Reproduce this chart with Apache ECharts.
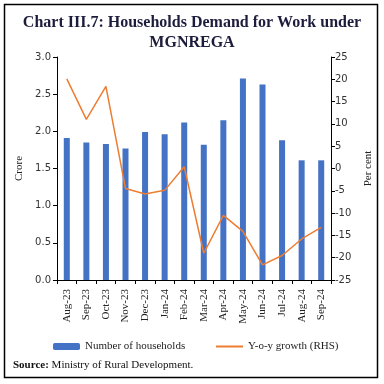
<!DOCTYPE html>
<html><head><meta charset="utf-8">
<script src="https://cdn.jsdelivr.net/npm/echarts@6/dist/echarts.min.js"></script>
<style>html,body{margin:0;padding:0;background:#fff}#c{width:384px;height:384px}</style>
</head><body><div id="c"></div>
<script>
const categories = ['Aug-23','Sep-23','Oct-23','Nov-23','Dec-23','Jan-24','Feb-24','Mar-24','Apr-24','May-24','Jun-24','Jul-24','Aug-24','Sep-24'];
const households = [1.91,1.85,1.83,1.77,1.99,1.96,2.12,1.82,2.15,2.71,2.63,1.88,1.61,1.61];
const yoyGrowth = [20.1,11.0,18.4,-4.5,-5.7,-4.9,0.4,-19.0,-10.5,-14.1,-21.6,-19.5,-15.8,-13.2];
const leftTicks = {min:0, max:3, interval:0.5};
const rightTicks = {min:-25, max:25, interval:5};

const chart = echarts.init(document.getElementById('c'), null, {renderer:'canvas'});
const serif = 'Liberation Serif';
const sans = 'DejaVu Sans';
chart.setOption({
  animation:false,
  backgroundColor:'#fff',
  title:{
    text:'Chart III.7: Households Demand for Work under\nMGNREGA',
    left:'center', top:8,
    textStyle:{fontFamily:serif, fontWeight:'bold', fontSize:16, color:'#1c1c3c', lineHeight:20}
  },
  grid:{left:57, right:53, top:57, bottom:104},
  legend:[
    {data:['Number of households'], left:53, top:341, padding:0, itemWidth:27, itemHeight:7, itemGap:4,
     textStyle:{fontFamily:serif, fontSize:11, color:'#222'}},
    {data:[{name:'Y-o-y growth (RHS)', icon:'rect'}], left:216, top:341, padding:0, itemWidth:27, itemHeight:2, itemGap:4,
     textStyle:{fontFamily:serif, fontSize:11, color:'#222'}}
  ],
  xAxis:{
    type:'category', data:categories,
    axisLine:{lineStyle:{color:'#000', width:1}},
    axisTick:{show:true, length:4, lineStyle:{color:'#000'}, alignWithLabel:false},
    axisLabel:{rotate:90, fontFamily:serif, fontSize:11, color:'#222', margin:9, interval:0}
  },
  yAxis:[
    {type:'value', min:leftTicks.min, max:leftTicks.max, interval:leftTicks.interval,
     name:'Crore', nameLocation:'middle', nameGap:30, nameRotate:90,
     nameTextStyle:{fontFamily:serif, fontSize:11, color:'#222'},
     axisLine:{show:true, lineStyle:{color:'#000'}},
     axisTick:{show:true, length:4, lineStyle:{color:'#000'}},
     splitLine:{show:false},
     axisLabel:{fontFamily:sans, fontSize:10, color:'#333', margin:6, formatter:v=>v.toFixed(1)}},
    {type:'value', min:rightTicks.min, max:rightTicks.max, interval:rightTicks.interval,
     name:'Per cent', nameLocation:'middle', nameGap:26, nameRotate:90,
     nameTextStyle:{fontFamily:serif, fontSize:11, color:'#222'},
     axisLine:{show:true, lineStyle:{color:'#000'}},
     axisTick:{show:true, length:4, lineStyle:{color:'#000'}},
     splitLine:{show:false},
     axisLabel:{fontFamily:sans, fontSize:10, color:'#333', margin:4}}
  ],
  series:[
    {name:'Number of households', type:'bar', data:households, yAxisIndex:0,
     barWidth:6, itemStyle:{color:'#4472C4'}},
    {name:'Y-o-y growth (RHS)', type:'line', data:yoyGrowth, yAxisIndex:1,
     symbol:'none', lineStyle:{color:'#ED7D31', width:1.5}, itemStyle:{color:'#ED7D31'}}
  ],
  graphic:[
    {type:'rect', shape:{x:4.5, y:4.5, width:373, height:373}, style:{fill:'none', stroke:'#000', lineWidth:1.5}, silent:true},
    {type:'text', left:13, top:360, style:{
      text:'{b|Source:} Ministry of Rural Development.',
      rich:{b:{fontFamily:serif, fontWeight:'bold', fontSize:11, fill:'#111'}},
      fontFamily:serif, fontSize:11, fill:'#111'}}
  ]
});
</script></body></html>
